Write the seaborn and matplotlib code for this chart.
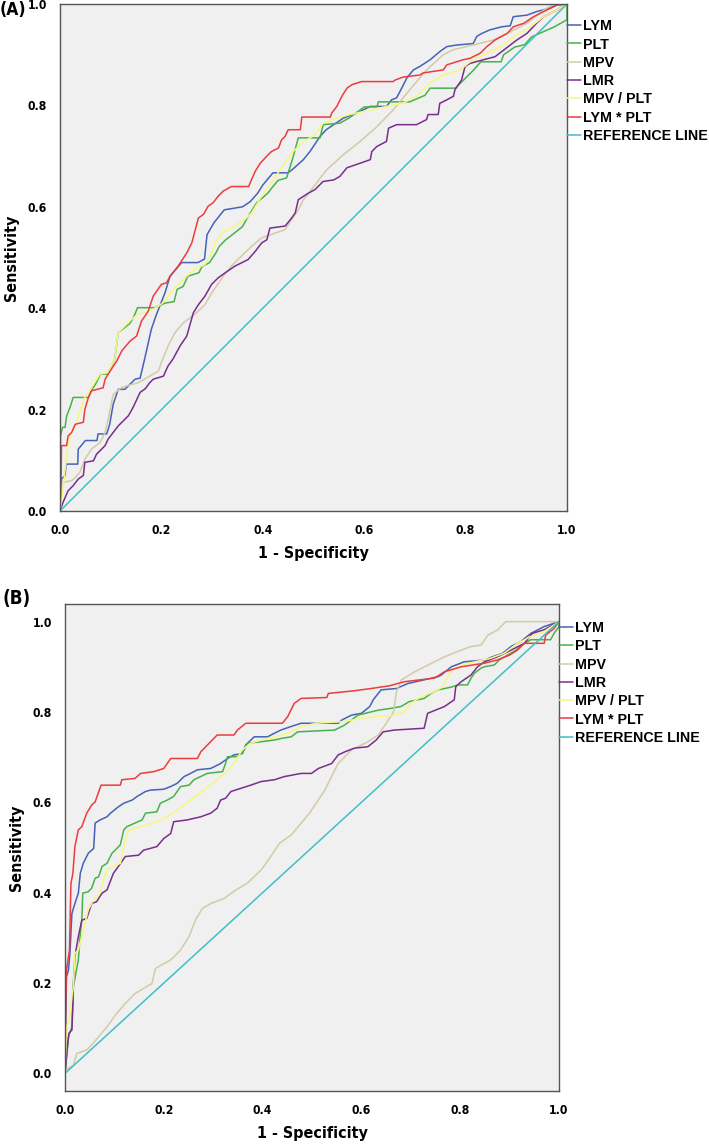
import matplotlib
matplotlib.use("Agg")
import matplotlib.pyplot as plt
import seaborn as sns
import pandas as pd
from matplotlib import font_manager

# ---------------- data (1 - specificity, sensitivity) ----------------
SERIES = ["LYM", "PLT", "MPV", "LMR", "MPV / PLT", "LYM * PLT", "REFERENCE LINE"]
COLORS = ["#4462B8", "#45B34C", "#D3CAA6", "#7B2D8E", "#F7F77E", "#EE3B3E", "#3FBFC6"]

A_LYM = [(0,0),(0.003,0.063),(0.01,0.07),(0.012,0.0925),(0.035,0.0925),(0.036,0.122),(0.05,0.139),
         (0.073,0.139),(0.075,0.152),(0.092,0.152),(0.098,0.171),(0.105,0.211),(0.115,0.24),(0.128,0.24),
         (0.148,0.26),(0.158,0.262),(0.167,0.3),(0.18,0.358),(0.19,0.387),(0.207,0.43),(0.217,0.463),
         (0.24,0.49),(0.272,0.49),(0.285,0.497),(0.29,0.545),(0.304,0.569),(0.324,0.594),(0.36,0.6),
         (0.375,0.61),(0.39,0.627),(0.4,0.643),(0.42,0.667),(0.45,0.667),(0.46,0.675),(0.48,0.693),
         (0.493,0.709),(0.513,0.739),(0.525,0.752),(0.559,0.775),(0.585,0.785),(0.612,0.798),(0.644,0.798),
         (0.654,0.811),(0.664,0.815),(0.674,0.834),(0.684,0.854),(0.697,0.87),(0.71,0.877),(0.73,0.89),
         (0.749,0.906),(0.763,0.916),(0.782,0.919),(0.815,0.922),(0.822,0.936),(0.832,0.942),(0.848,0.949),
         (0.871,0.955),(0.888,0.957),(0.894,0.975),(0.921,0.978),(0.94,0.985),(0.967,0.992),(0.98,0.998),(1,1)]
A_PLT = [(0,0),(0.001,0.148),(0.005,0.165),(0.01,0.165),(0.013,0.187),(0.02,0.205),(0.026,0.224),
         (0.056,0.224),(0.063,0.24),(0.07,0.25),(0.08,0.27),(0.094,0.27),(0.104,0.29),(0.108,0.3),
         (0.115,0.352),(0.128,0.362),(0.138,0.37),(0.146,0.384),(0.153,0.401),(0.187,0.401),(0.2,0.407),
         (0.207,0.41),(0.225,0.413),(0.231,0.437),(0.243,0.443),(0.252,0.463),(0.274,0.47),(0.28,0.482),
         (0.295,0.49),(0.308,0.51),(0.314,0.522),(0.327,0.535),(0.345,0.549),(0.36,0.561),(0.37,0.579),
         (0.388,0.608),(0.41,0.627),(0.42,0.64),(0.43,0.652),(0.447,0.657),(0.46,0.699),(0.47,0.736),
         (0.513,0.736),(0.519,0.762),(0.552,0.765),(0.57,0.775),(0.6,0.797),(0.625,0.797),(0.628,0.807),
         (0.69,0.807),(0.72,0.82),(0.73,0.834),(0.78,0.834),(0.79,0.844),(0.816,0.87),(0.83,0.886),
         (0.87,0.886),(0.875,0.9),(0.897,0.915),(0.917,0.92),(0.93,0.935),(0.975,0.955),(1,0.969),(1,1)]
A_MPV = [(0,0),(0.004,0.056),(0.023,0.06),(0.03,0.066),(0.039,0.076),(0.049,0.102),(0.062,0.122),
         (0.079,0.135),(0.089,0.155),(0.095,0.181),(0.105,0.23),(0.122,0.244),(0.154,0.253),(0.177,0.266),
         (0.194,0.276),(0.2,0.293),(0.213,0.325),(0.227,0.352),(0.243,0.371),(0.266,0.388),(0.286,0.407),
         (0.299,0.43),(0.309,0.444),(0.322,0.463),(0.338,0.483),(0.358,0.503),(0.378,0.522),(0.398,0.539),
         (0.444,0.555),(0.457,0.575),(0.47,0.594),(0.48,0.614),(0.496,0.634),(0.526,0.673),(0.559,0.703),
         (0.592,0.729),(0.625,0.758),(0.657,0.791),(0.69,0.831),(0.723,0.87),(0.756,0.9),(0.776,0.91),
         (0.802,0.916),(0.855,0.929),(0.888,0.945),(0.921,0.962),(0.954,0.988),(0.974,1.0),(1,1)]
A_LMR = [(0,0),(0.006,0.017),(0.016,0.04),(0.026,0.05),(0.036,0.063),(0.046,0.07),(0.049,0.096),
         (0.066,0.099),(0.072,0.112),(0.089,0.129),(0.095,0.142),(0.105,0.155),(0.115,0.168),(0.125,0.178),
         (0.135,0.188),(0.144,0.204),(0.158,0.234),(0.168,0.241),(0.177,0.253),(0.184,0.26),(0.204,0.266),
         (0.213,0.286),(0.223,0.3),(0.237,0.326),(0.25,0.345),(0.263,0.391),(0.273,0.407),(0.286,0.424),
         (0.299,0.447),(0.312,0.46),(0.326,0.47),(0.345,0.483),(0.371,0.496),(0.385,0.512),(0.398,0.529),
         (0.408,0.535),(0.414,0.558),(0.444,0.562),(0.457,0.578),(0.464,0.588),(0.47,0.614),(0.49,0.627),
         (0.503,0.634),(0.519,0.65),(0.54,0.653),(0.552,0.66),(0.566,0.677),(0.592,0.686),(0.612,0.693),
         (0.615,0.709),(0.625,0.719),(0.644,0.729),(0.648,0.755),(0.664,0.762),(0.703,0.762),(0.723,0.772),
         (0.726,0.782),(0.746,0.782),(0.749,0.804),(0.763,0.811),(0.776,0.818),(0.779,0.831),(0.792,0.85),
         (0.799,0.877),(0.809,0.883),(0.835,0.89),(0.858,0.896),(0.875,0.909),(0.901,0.929),(0.921,0.942),
         (0.94,0.962),(0.954,0.975),(0.98,0.988),(1,1)]
A_MPVPLT = [(0,0),(0.003,0.02),(0.016,0.132),(0.019,0.148),(0.03,0.168),(0.039,0.197),(0.049,0.224),
            (0.056,0.233),(0.066,0.25),(0.079,0.27),(0.095,0.273),(0.108,0.3),(0.115,0.352),(0.128,0.365),
            (0.141,0.378),(0.154,0.388),(0.177,0.394),(0.194,0.404),(0.207,0.414),(0.217,0.43),(0.23,0.444),
            (0.243,0.457),(0.266,0.477),(0.286,0.486),(0.299,0.509),(0.306,0.529),(0.319,0.549),(0.345,0.562),
            (0.365,0.575),(0.378,0.588),(0.39,0.608),(0.401,0.627),(0.417,0.647),(0.43,0.667),(0.444,0.687),
            (0.457,0.706),(0.477,0.726),(0.503,0.742),(0.519,0.765),(0.546,0.775),(0.572,0.782),(0.612,0.791),
            (0.644,0.798),(0.677,0.805),(0.703,0.818),(0.73,0.844),(0.756,0.86),(0.789,0.87),(0.809,0.886),
            (0.829,0.896),(0.848,0.906),(0.875,0.919),(0.901,0.939),(0.928,0.955),(0.954,0.975),(0.98,0.988),(1,1)]
A_LYMPLT = [(0,0),(0.002,0.056),(0.003,0.129),(0.013,0.129),(0.016,0.148),(0.023,0.155),(0.03,0.171),
            (0.046,0.175),(0.049,0.2),(0.056,0.224),(0.062,0.237),(0.085,0.243),(0.089,0.26),(0.095,0.27),
            (0.112,0.296),(0.122,0.316),(0.138,0.335),(0.151,0.345),(0.161,0.375),(0.174,0.394),(0.184,0.424),
            (0.191,0.434),(0.2,0.447),(0.21,0.45),(0.217,0.463),(0.233,0.483),(0.25,0.509),(0.26,0.529),
            (0.273,0.578),(0.283,0.585),(0.292,0.601),(0.302,0.608),(0.312,0.621),(0.322,0.631),(0.338,0.64),
            (0.372,0.64),(0.378,0.654),(0.385,0.67),(0.395,0.686),(0.408,0.7),(0.417,0.709),(0.431,0.716),
            (0.437,0.732),(0.444,0.739),(0.45,0.752),(0.474,0.752),(0.477,0.777),(0.533,0.777),(0.536,0.785),
            (0.546,0.798),(0.556,0.818),(0.566,0.834),(0.576,0.841),(0.595,0.847),(0.657,0.847),(0.661,0.85),
            (0.677,0.856),(0.71,0.86),(0.716,0.864),(0.756,0.87),(0.763,0.88),(0.795,0.89),(0.809,0.893),
            (0.829,0.903),(0.842,0.916),(0.858,0.929),(0.882,0.942),(0.894,0.955),(0.915,0.962),(0.934,0.975),
            (0.954,0.985),(0.98,0.998),(1,1)]

B_LYM = [(0,0),(0.003,0.214),(0.007,0.229),(0.01,0.266),(0.014,0.354),(0.02,0.376),(0.027,0.399),
         (0.031,0.443),(0.037,0.465),(0.047,0.487),(0.054,0.494),(0.058,0.498),(0.061,0.554),(0.071,0.561),
         (0.085,0.568),(0.092,0.576),(0.108,0.59),(0.119,0.598),(0.136,0.605),(0.146,0.613),(0.163,0.624),
         (0.173,0.627),(0.2,0.629),(0.214,0.635),(0.227,0.642),(0.241,0.657),(0.254,0.664),(0.268,0.672),
         (0.295,0.675),(0.315,0.686),(0.329,0.697),(0.342,0.705),(0.359,0.708),(0.366,0.727),(0.383,0.745),
         (0.41,0.745),(0.424,0.753),(0.437,0.76),(0.458,0.768),(0.478,0.775),(0.553,0.775),(0.56,0.782),
         (0.58,0.793),(0.6,0.797),(0.617,0.812),(0.624,0.827),(0.634,0.841),(0.64,0.849),(0.671,0.852),
         (0.694,0.863),(0.755,0.878),(0.762,0.882),(0.782,0.9),(0.808,0.911),(0.849,0.915),(0.865,0.922),
         (0.886,0.93),(0.903,0.945),(0.923,0.956),(0.943,0.974),(0.97,0.989),(1,1)]
B_PLT = [(0,0),(0.007,0.081),(0.014,0.103),(0.017,0.192),(0.027,0.251),(0.031,0.31),(0.034,0.339),
         (0.036,0.399),(0.047,0.402),(0.054,0.41),(0.061,0.432),(0.068,0.435),(0.075,0.458),(0.085,0.465),
         (0.095,0.487),(0.105,0.498),(0.112,0.506),(0.119,0.539),(0.125,0.546),(0.156,0.561),(0.163,0.576),
         (0.186,0.579),(0.193,0.598),(0.207,0.605),(0.22,0.613),(0.234,0.635),(0.251,0.638),(0.261,0.65),
         (0.288,0.664),(0.319,0.668),(0.325,0.686),(0.329,0.701),(0.349,0.701),(0.363,0.716),(0.369,0.731),
         (0.397,0.734),(0.424,0.738),(0.441,0.742),(0.458,0.745),(0.471,0.756),(0.546,0.76),(0.566,0.771),
         (0.593,0.793),(0.634,0.804),(0.66,0.808),(0.68,0.812),(0.697,0.823),(0.727,0.83),(0.741,0.841),
         (0.755,0.849),(0.782,0.855),(0.795,0.86),(0.815,0.86),(0.822,0.875),(0.829,0.886),(0.842,0.897),
         (0.849,0.9),(0.869,0.904),(0.879,0.915),(0.896,0.926),(0.913,0.937),(0.93,0.952),(0.943,0.96),
         (0.983,0.96),(0.99,0.974),(1,0.989),(1,1)]
B_MPV = [(0,0),(0.0,0.007),(0.017,0.018),(0.024,0.044),(0.044,0.052),(0.054,0.063),(0.068,0.081),
         (0.085,0.103),(0.102,0.129),(0.122,0.155),(0.142,0.177),(0.159,0.188),(0.176,0.199),(0.183,0.232),
         (0.2,0.243),(0.214,0.251),(0.234,0.273),(0.251,0.303),(0.264,0.339),(0.278,0.365),(0.295,0.376),
         (0.322,0.387),(0.346,0.406),(0.369,0.421),(0.397,0.45),(0.414,0.476),(0.434,0.509),(0.458,0.528),
         (0.478,0.554),(0.495,0.576),(0.526,0.627),(0.553,0.686),(0.58,0.716),(0.613,0.734),(0.634,0.749),
         (0.648,0.771),(0.665,0.8),(0.671,0.845),(0.681,0.871),(0.708,0.889),(0.735,0.904),(0.768,0.922),
         (0.795,0.934),(0.822,0.945),(0.842,0.948),(0.856,0.97),(0.876,0.982),(0.892,1.0),(1,1)]
B_LMR = [(0,0),(0.005,0.059),(0.008,0.089),(0.014,0.096),(0.016,0.155),(0.017,0.199),(0.02,0.258),
         (0.027,0.303),(0.034,0.339),(0.044,0.343),(0.054,0.376),(0.064,0.38),(0.075,0.399),(0.085,0.406),
         (0.098,0.443),(0.108,0.458),(0.122,0.48),(0.149,0.483),(0.159,0.494),(0.186,0.502),(0.2,0.52),
         (0.214,0.531),(0.22,0.557),(0.247,0.561),(0.275,0.568),(0.295,0.576),(0.308,0.587),(0.315,0.605),
         (0.325,0.609),(0.336,0.624),(0.356,0.631),(0.376,0.638),(0.397,0.646),(0.424,0.65),(0.444,0.657),
         (0.478,0.664),(0.499,0.664),(0.513,0.675),(0.54,0.686),(0.553,0.705),(0.567,0.712),(0.586,0.72),
         (0.613,0.723),(0.63,0.738),(0.644,0.756),(0.667,0.76),(0.727,0.764),(0.734,0.797),(0.768,0.812),
         (0.788,0.827),(0.791,0.856),(0.802,0.867),(0.822,0.882),(0.835,0.9),(0.849,0.911),(0.875,0.922),
         (0.903,0.937),(0.93,0.952),(0.946,0.974),(0.97,0.982),(1,1)]
B_MPVPLT = [(0,0),(0.0,0.007),(0.003,0.103),(0.01,0.125),(0.014,0.17),(0.017,0.192),(0.02,0.266),
            (0.027,0.273),(0.037,0.317),(0.047,0.362),(0.058,0.384),(0.071,0.399),(0.078,0.428),(0.085,0.45),
            (0.098,0.458),(0.112,0.465),(0.122,0.517),(0.129,0.539),(0.153,0.546),(0.186,0.557),(0.207,0.568),
            (0.227,0.583),(0.254,0.605),(0.281,0.627),(0.308,0.65),(0.332,0.672),(0.346,0.694),(0.359,0.716),
            (0.376,0.731),(0.397,0.738),(0.424,0.745),(0.451,0.753),(0.478,0.768),(0.508,0.775),(0.566,0.779),
            (0.6,0.786),(0.634,0.79),(0.667,0.793),(0.687,0.8),(0.7,0.819),(0.721,0.834),(0.748,0.845),
            (0.765,0.856),(0.775,0.878),(0.785,0.893),(0.802,0.904),(0.829,0.911),(0.862,0.919),(0.889,0.93),
            (0.916,0.952),(0.943,0.967),(0.97,0.978),(1,1)]
B_LYMPLT = [(0,0),(0.001,0.125),(0.003,0.229),(0.009,0.273),(0.012,0.42),(0.016,0.443),(0.02,0.502),
            (0.027,0.539),(0.034,0.546),(0.044,0.576),(0.054,0.594),(0.061,0.601),(0.073,0.638),(0.112,0.638),
            (0.115,0.65),(0.142,0.653),(0.153,0.664),(0.18,0.668),(0.2,0.675),(0.214,0.697),(0.268,0.697),
            (0.275,0.712),(0.292,0.731),(0.308,0.749),(0.342,0.749),(0.349,0.76),(0.366,0.775),(0.44,0.775),
            (0.451,0.79),(0.464,0.819),(0.478,0.83),(0.53,0.832),(0.533,0.841),(0.586,0.847),(0.62,0.852),
            (0.657,0.858),(0.687,0.867),(0.748,0.875),(0.768,0.889),(0.802,0.9),(0.849,0.908),(0.875,0.915),
            (0.9,0.926),(0.916,0.937),(0.93,0.952),(0.97,0.952),(0.973,0.97),(0.99,0.985),(1,1)]
REFERENCE = [(0, 0), (1, 1)]

PANEL_A = [A_LYM, A_PLT, A_MPV, A_LMR, A_MPVPLT, A_LYMPLT, REFERENCE]
PANEL_B = [B_LYM, B_PLT, B_MPV, B_LMR, B_MPVPLT, B_LYMPLT, REFERENCE]
TICKS = [0.0, 0.2, 0.4, 0.6, 0.8, 1.0]
TICK_LABELS = ["0.0", "0.2", "0.4", "0.6", "0.8", "1.0"]

# ---------------- style ----------------
sns.set_style("white", {"axes.facecolor": "#F0F0F0", "axes.edgecolor": "#555555",
                        "text.color": "black", "axes.labelcolor": "black",
                        "xtick.color": "black", "ytick.color": "black"})
WIDE = ["Liberation Sans", "DejaVu Sans"]

_fonts = font_manager.fontManager.ttflist
_names = {f.name for f in _fonts}
if "Liberation Sans Narrow" in _names:
    NARROW = {"family": ["Liberation Sans Narrow"], "stretch": "normal", "scale": 1.05}
elif any(f.name == "DejaVu Sans" and str(f.stretch) in ("condensed", "semi-condensed") for f in _fonts):
    NARROW = {"family": ["DejaVu Sans"], "stretch": "condensed", "scale": 1.0}
else:
    NARROW = {"family": ["Liberation Sans", "DejaVu Sans"], "stretch": "normal", "scale": 0.93}

plt.rcParams["font.family"] = NARROW["family"]
plt.rcParams["font.weight"] = "bold"
SC = NARROW["scale"]

W, H = 709, 1144
fig = plt.figure(figsize=(W / 100, H / 100), dpi=100)
fig.patch.set_facecolor("white")

def px_axes(l, t, r, b):
    return fig.add_axes([l / W, 1 - b / H, (r - l) / W, (b - t) / H])

axA = px_axes(60, 4, 567, 511)
axB = px_axes(65, 604, 559, 1091)

def narrow_text(obj, size):
    obj.set_family(NARROW["family"])
    obj.set_fontstretch(NARROW["stretch"])
    obj.set_fontweight("bold")
    obj.set_fontsize(size * SC)
    obj.set_color("black")

def draw(ax, curves, ylim, leg_top):
    for name, pts, col in zip(SERIES, curves, COLORS):
        df = pd.DataFrame(pts, columns=["fpr", "tpr"])
        sns.lineplot(data=df, x="fpr", y="tpr", ax=ax, color=col, linewidth=1.1,
                     sort=False, estimator=None, label=name)
    ax.set_xlim(0, 1)
    ax.set_ylim(*ylim)
    ax.set_xticks(TICKS)
    ax.set_xticklabels(TICK_LABELS)
    ax.set_yticks(TICKS)
    ax.set_yticklabels(TICK_LABELS)
    ax.tick_params(direction="out", length=7, width=1, color="#555555", pad=2.5)
    for lab in ax.get_xticklabels() + ax.get_yticklabels():
        narrow_text(lab, 8.7)
    for s in ax.spines.values():
        s.set_linewidth(1.0)
        s.set_color("#555555")
    ax.set_xlabel("1 - Specificity", labelpad=6)
    ax.set_ylabel("Sensitivity", labelpad=6)
    narrow_text(ax.xaxis.label, 11.5)
    narrow_text(ax.yaxis.label, 11.5)
    leg = ax.legend(loc="upper left", bbox_to_anchor=(1.0, leg_top), frameon=False,
                    borderaxespad=0, borderpad=0, handlelength=1.0, handletextpad=0.15,
                    labelspacing=0.30, prop={"family": WIDE, "weight": "bold", "size": 10.3})
    for t in leg.get_texts():
        t.set_color("black")
    for line in leg.get_lines():
        line.set_linewidth(1.1)

draw(axA, PANEL_A, (0, 1), 0.970)
draw(axB, PANEL_B, (-0.039, 1.039), 0.965)

tA = fig.text(0.0, 1 - 1 / H, "(A)", va="top", ha="left")
tB = fig.text(3 / W, 1 - 589 / H, "(B)", va="top", ha="left")
narrow_text(tA, 12.5)
narrow_text(tB, 13.5)

fig.savefig("out.png", dpi=100, facecolor="white")
